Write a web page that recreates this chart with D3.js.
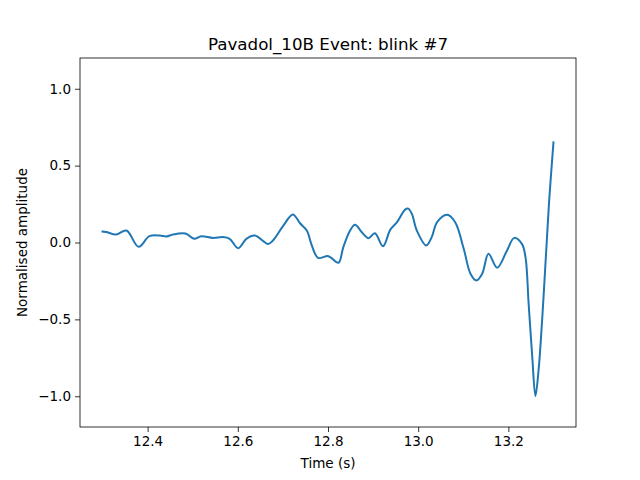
<!DOCTYPE html>
<html>
<head>
<meta charset="utf-8">
<script src="https://cdn.jsdelivr.net/npm/d3@7"></script>
<style>
  body { margin: 0; background: #fff; }
  text { font-family: "DejaVu Sans", sans-serif; }
</style>
</head>
<body>
<div id="chart"></div>
<script>
// trace
const times = [12.300, 12.308, 12.330, 12.353, 12.380, 12.404, 12.427, 12.442, 12.456, 12.484,
  12.503, 12.519, 12.545, 12.567, 12.582, 12.601, 12.619, 12.638, 12.667, 12.678,
  12.701, 12.722, 12.738, 12.753, 12.764, 12.778, 12.801, 12.823, 12.834, 12.849,
  12.860, 12.875, 12.890, 12.904, 12.922, 12.938, 12.953, 12.971, 12.978, 12.986,
  12.997, 13.018, 13.030, 13.042, 13.064, 13.082, 13.101, 13.116, 13.129, 13.142,
  13.156, 13.175, 13.197, 13.213, 13.230, 13.238, 13.245, 13.253, 13.260, 13.267,
  13.278, 13.290, 13.300]
const amplitude = [0.071, 0.069, 0.052, 0.078, -0.028, 0.041, 0.045, 0.039, 0.052, 0.058,
  0.024, 0.041, 0.030, 0.035, 0.024, -0.037, 0.024, 0.045, -0.009, 0.013,
  0.110, 0.182, 0.125, 0.078, -0.019, -0.100, -0.089, -0.132, -0.030, 0.078,
  0.115, 0.067, 0.028, 0.060, -0.024, 0.082, 0.132, 0.214, 0.220, 0.186,
  0.078, -0.019, 0.035, 0.132, 0.180, 0.132, -0.041, -0.203, -0.247, -0.203,
  -0.073, -0.164, -0.052, 0.030, -0.009, -0.095, -0.400, -0.745, -0.998, -0.830,
  -0.355, 0.251, 0.651]

const xTicks = [12.4, 12.6, 12.8, 13.0, 13.2]
const yTicks = [-1.0, -0.5, 0.0, 0.5, 1.0]

const width = 640, height = 480
const margin = { top: 58, right: 64, bottom: 53, left: 80 }

const svg = d3.select('#chart')
  .append('svg')
  .attr('width', width)
  .attr('height', height)

const x = d3.scaleLinear()
  .domain([12.25, 13.35])
  .range([margin.left, width - margin.right])

const y = d3.scaleLinear()
  .domain([-1.2, 1.2])
  .range([height - margin.bottom, margin.top])

const fmt = d => d3.format('.1f')(d).replace('-', '\u2212')

const line = d3.line()
  .x((d, i) => x(times[i]))
  .y(d => y(d))
  .curve(d3.curveCatmullRom.alpha(0.5))

svg.append('defs').append('clipPath')
  .attr('id', 'clip')
  .append('rect')
  .attr('x', margin.left)
  .attr('y', margin.top)
  .attr('width', width - margin.left - margin.right)
  .attr('height', height - margin.top - margin.bottom)

svg.append('path')
  .datum(amplitude)
  .attr('clip-path', 'url(#clip)')
  .attr('d', line)
  .attr('fill', 'none')
  .attr('stroke', '#1f77b4')
  .attr('stroke-width', 2)
  .attr('stroke-linejoin', 'round')
  .attr('stroke-linecap', 'square')

const xAxis = svg.append('g')
  .attr('transform', `translate(0, ${height - margin.bottom})`)
  .call(d3.axisBottom(x).tickValues(xTicks).tickFormat(d3.format('.1f')).tickSize(5).tickPadding(4))

const yAxis = svg.append('g')
  .attr('transform', `translate(${margin.left}, 0)`)
  .call(d3.axisLeft(y).tickValues(yTicks).tickFormat(fmt).tickSize(5).tickPadding(4))

svg.selectAll('.domain').remove()
svg.selectAll('.tick line').attr('stroke', '#000').attr('stroke-width', 0.8)
svg.selectAll('.tick text').attr('fill', '#000').style('font-size', '13.5px')

// axes frame
svg.append('rect')
  .attr('x', margin.left)
  .attr('y', margin.top)
  .attr('width', width - margin.left - margin.right)
  .attr('height', height - margin.top - margin.bottom)
  .attr('fill', 'none')
  .attr('stroke', '#000')
  .attr('stroke-width', 0.8)

svg.append('text')
  .attr('x', (margin.left + width - margin.right) / 2)
  .attr('y', 49.5)
  .attr('text-anchor', 'middle')
  .style('font-size', '16.7px')
  .text('Pavadol_10B Event: blink #7')

svg.append('text')
  .attr('x', (margin.left + width - margin.right) / 2)
  .attr('y', 468)
  .attr('text-anchor', 'middle')
  .style('font-size', '13.5px')
  .text('Time (s)')

svg.append('text')
  .attr('transform', `translate(27, ${(margin.top + height - margin.bottom) / 2}) rotate(-90)`)
  .attr('text-anchor', 'middle')
  .style('font-size', '13.5px')
  .text('Normalised amplitude')
</script>
</body>
</html>
